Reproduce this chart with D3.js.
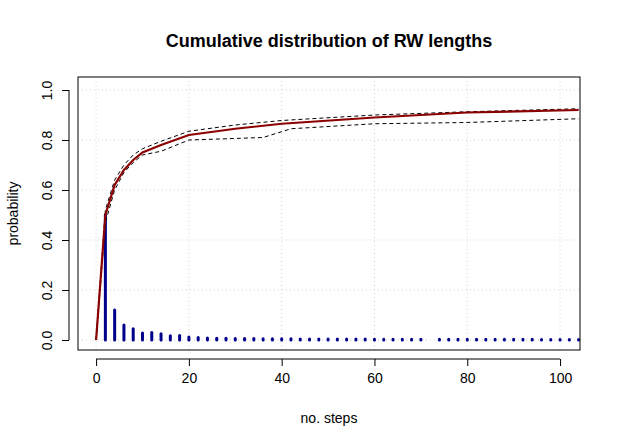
<!DOCTYPE html>
<html lang="en">
<head>
<meta charset="UTF-8">
<title>Cumulative distribution of RW lengths</title>
<style>
body { margin: 0; background: #fff; }
svg { font-family: "Liberation Sans", Arial, sans-serif; }
.grid line { stroke: #d3d3d3; stroke-dasharray: 1,3; }
</style>
<script src="https://d3js.org/d3.v7.min.js"></script>
</head>
<body>
<div id="chart"></div>
<script>
// probability mass per step length (even steps)
const barSteps = d3.range(2, 106, 2).filter(s => s !== 72);
const barValues = [0.5, 0.12, 0.06, 0.045, 0.028, 0.03, 0.025, 0.017, 0.018, 0.012,
  0.01, 0.008, 0.007, 0.007, 0.006, 0.006, 0.006, 0.005, 0.005, 0.005,
  0.005, 0.004, 0.004, 0.004, 0.004, 0.004, 0.004, 0.004, 0.004, 0.003,
  0.003, 0.003, 0.003, 0.003, 0.003, 0.003, 0.003, 0.003, 0.003, 0.003,
  0.003, 0.003, 0.003, 0.003, 0.003, 0.003, 0.002, 0.002, 0.002, 0.002,
  0.002, 0.002];
const cdfSteps = [0, 2, 4, 6, 8, 10, 14, 20, 30, 40, 60, 80, 104];
const cdfMean = [0, 0.5, 0.62, 0.68, 0.72, 0.75, 0.78, 0.82, 0.845, 0.865, 0.89, 0.91, 0.92];
const cdfUpper = [0, 0.52, 0.64, 0.70, 0.74, 0.765, 0.795, 0.835, 0.86, 0.878, 0.90, 0.913, 0.925];
const lowSteps = [0, 2, 4, 6, 8, 10, 14, 20, 36, 42, 60, 80, 104];
const cdfLower = [0, 0.47, 0.60, 0.67, 0.71, 0.74, 0.755, 0.80, 0.81, 0.845, 0.865, 0.87, 0.885];
const xTicks = [0, 20, 40, 60, 80, 100];
const yTicks = [0, 0.2, 0.4, 0.6, 0.8, 1.0];

const W = 620, H = 448;
const plot = {left: 78, right: 580, top: 77, bottom: 350};
const svg = d3.select("#chart").append("svg").attr("width", W).attr("height", H);

const x = d3.scaleLinear().domain([-3.9, 104.3]).range([plot.left, plot.right]);
const y = d3.scaleLinear().domain([-0.04, 1.052]).range([plot.bottom, plot.top]);

// grid
const grid = svg.append("g").attr("class", "grid");
grid.selectAll(".gx").data(xTicks).enter().append("line")
  .attr("x1", d => x(d)).attr("x2", d => x(d)).attr("y1", plot.top).attr("y2", plot.bottom);
grid.selectAll(".gy").data(yTicks).enter().append("line")
  .attr("y1", d => y(d)).attr("y2", d => y(d)).attr("x1", plot.left).attr("x2", plot.right);

// bars
svg.selectAll(".bar").data(barSteps).enter().append("line")
  .attr("x1", d => x(d)).attr("x2", d => x(d))
  .attr("y1", y(0)).attr("y2", (d, i) => y(barValues[i]))
  .attr("stroke", "#00008b").attr("stroke-width", 3).attr("stroke-linecap", "round");

const line = (xs) => d3.line().x((d, i) => x(xs[i])).y(d => y(d));
svg.append("path").datum(cdfUpper).attr("d", line(cdfSteps))
  .attr("fill", "none").attr("stroke", "#000").attr("stroke-dasharray", "4,3");
svg.append("path").datum(cdfLower).attr("d", line(lowSteps))
  .attr("fill", "none").attr("stroke", "#000").attr("stroke-dasharray", "4,3");
svg.append("path").datum(cdfMean).attr("d", line(cdfSteps))
  .attr("fill", "none").attr("stroke", "#8b0000").attr("stroke-width", 2.2);

// frame
svg.append("rect").attr("x", plot.left).attr("y", plot.top)
  .attr("width", plot.right - plot.left).attr("height", plot.bottom - plot.top)
  .attr("fill", "none").attr("stroke", "#000");

// axes
const xa = svg.append("g").attr("transform", `translate(0,${plot.bottom + 9})`)
  .call(d3.axisBottom(x).tickValues(xTicks).tickSize(7).tickPadding(7));
xa.select(".domain").attr("d", `M${x(0)},0H${x(100)}`);
const ya = svg.append("g").attr("transform", `translate(${plot.left - 9},0)`)
  .call(d3.axisLeft(y).tickValues(yTicks).tickSize(7).tickPadding(5).tickFormat(d3.format(".1f")));
ya.select(".domain").attr("d", `M0,${y(0)}V${y(1)}`);
ya.selectAll(".tick text").attr("x", -17).attr("y", 0).attr("dy", null)
  .attr("text-anchor", "middle").attr("transform", "rotate(-90,-17,0)");
svg.selectAll(".tick text").attr("font-size", 14).attr("fill", "#000");

svg.append("text").attr("x", (plot.left + plot.right) / 2).attr("y", 47)
  .attr("text-anchor", "middle").attr("font-size", 18).attr("font-weight", "bold")
  .text("Cumulative distribution of RW lengths");
svg.append("text").attr("x", (plot.left + plot.right) / 2).attr("y", 423)
  .attr("text-anchor", "middle").attr("font-size", 14).text("no. steps");
svg.append("text").attr("transform", `translate(18,${(plot.top + plot.bottom) / 2}) rotate(-90)`)
  .attr("text-anchor", "middle").attr("font-size", 14).text("probability");
</script>
</body>
</html>
